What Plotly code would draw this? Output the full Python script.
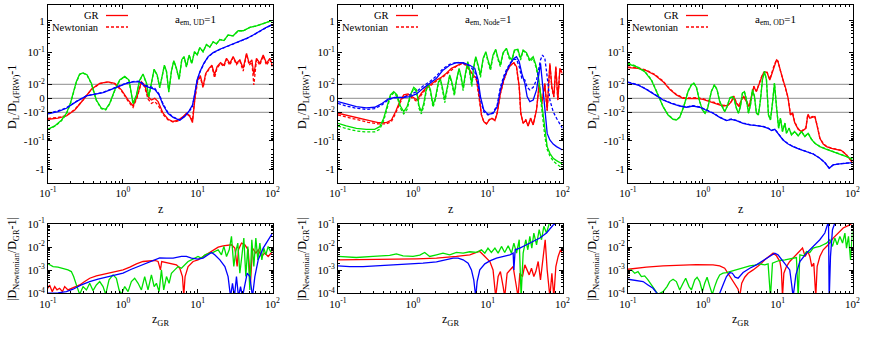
import numpy as np
import plotly.graph_objects as go

# ---------------- top row: D_L/D_L(FRW)-1 ----------------
# Panel 1: a_em,UD = 1
green_ud_z = [0.1, 0.123, 0.151, 0.176, 0.199, 0.221, 0.239, 0.265, 0.294, 0.332, 0.38, 0.443, 0.517, 0.59, 0.668, 0.78, 0.908, 1.06, 1.21, 1.37, 1.52, 1.68, 1.86, 2.07, 2.22, 2.41, 2.62, 2.87, 3.11, 3.38, 3.59, 3.83, 4.11, 4.46, 4.8, 5.2, 5.65, 6.13, 6.59, 7.08, 7.69, 8.34, 9.06, 9.84, 10.7, 11.8, 13.1, 14.5, 16.1, 17.8, 19.8, 22.4, 25.5, 29.8, 34.8, 40.6, 49.8, 61.1, 75.1, 100]
green_ud_gr = [-0.039, -0.03, -0.019, -0.011, -0.0036, 0.0048, 0.012, 0.021, 0.023, 0.020, 0.0108, -0.0012, -0.0071, -0.0079, -0.0036, 0.006, 0.0137, 0.018, 0.0137, -0.0036, 0.0024, 0.0137, 0.021, 0.011, 0.0012, 0.011, 0.030, 0.020, 0.0079, 0.020, 0.040, 0.026, 0.0048, 0.026, 0.056, 0.032, 0.0145, 0.06, 0.075, 0.036, 0.084, 0.046, 0.107, 0.085, 0.145, 0.107, 0.18, 0.15, 0.22, 0.19, 0.26, 0.24, 0.36, 0.34, 0.49, 0.49, 0.63, 0.70, 0.84, 1.05]
green_ud_nw = [-0.041, -0.031, -0.02, -0.0115, -0.004, 0.0045, 0.0115, 0.0205, 0.0225, 0.0195, 0.0102, -0.0016, -0.0075, -0.0083, -0.004, 0.0055, 0.0132, 0.0175, 0.013, -0.0042, 0.002, 0.013, 0.0205, 0.0105, 0.0008, 0.0105, 0.029, 0.0195, 0.0074, 0.0195, 0.039, 0.025, 0.0044, 0.025, 0.055, 0.031, 0.014, 0.059, 0.074, 0.035, 0.083, 0.045, 0.106, 0.084, 0.143, 0.106, 0.178, 0.148, 0.218, 0.188, 0.258, 0.238, 0.357, 0.337, 0.487, 0.487, 0.627, 0.697, 0.837, 1.04]

red_ud_z = [0.1, 0.136, 0.176, 0.228, 0.294, 0.38, 0.491, 0.634, 0.78, 0.957, 1.175, 1.37, 1.55, 1.77, 1.96, 2.17, 2.41, 2.67, 2.96, 3.45, 4.03, 4.70, 5.48, 6.39, 7.08, 7.85, 8.52, 8.97, 9.44, 10.1, 10.9, 11.8, 12.8, 14.2, 15.5, 16.8, 18.2, 20.2, 22.4, 24.3, 26.9, 29.8, 33.0, 36.6, 40.6, 45.0, 48.8, 53.0, 56.3, 61.1, 67.8, 75.1, 83.2, 92.2, 100]
red_ud_gr = [-0.0175, -0.016, -0.0135, -0.0083, -0.0012, 0.0064, 0.0107, 0.012, 0.0107, 0.006, -0.0012, -0.0055, 0.0012, 0.012, 0.0095, 0.0012, -0.0012, 0.0, -0.0024, -0.0108, -0.0175, -0.021, -0.019, -0.0142, -0.0108, -0.014, -0.023, -0.006, 0.006, 0.0155, 0.018, 0.0083, 0.022, 0.032, 0.04, 0.02, 0.036, 0.048, 0.04, 0.066, 0.046, 0.075, 0.046, 0.059, 0.032, 0.095, 0.046, 0.059, 0.02, 0.066, 0.046, 0.084, 0.046, 0.066, 0.04]
red_ud_nw = [-0.0165, -0.0152, -0.013, -0.008, -0.0012, 0.0062, 0.0105, 0.0118, 0.0104, 0.0055, -0.002, -0.0065, 0.0005, 0.0115, 0.008, -0.0005, -0.0036, -0.0024, -0.0048, -0.012, -0.0185, -0.022, -0.02, -0.015, -0.0115, -0.013, -0.02, -0.004, 0.005, 0.014, 0.016, 0.0075, 0.02, 0.03, 0.037, 0.016, 0.033, 0.045, 0.036, 0.062, 0.04, 0.07, 0.042, 0.055, 0.026, 0.09, 0.04, 0.05, 0.0095, 0.06, 0.04, 0.08, 0.04, 0.06, 0.035]

blue_ud_z = [0.1, 0.136, 0.176, 0.239, 0.326, 0.421, 0.544, 0.703, 0.908, 1.12, 1.37, 1.68, 1.96, 2.29, 2.67, 3.05, 3.45, 4.03, 4.70, 5.77, 6.73, 7.69, 8.52, 9.16, 9.84, 10.7, 12.1, 13.8, 16.1, 19.8, 24.3, 29.8, 36.6, 45.0, 55.2, 67.8, 83.2, 100]
blue_ud_gr = [-0.0114, -0.0095, -0.0071, -0.0024, 0.0017, 0.0031, 0.004, 0.0064, 0.0088, 0.0107, 0.012, 0.012, 0.0088, 0.0076, 0.0064, 0.0024, -0.0048, -0.011, -0.015, -0.019, -0.014, -0.009, -0.0048, 0.0036, 0.0137, 0.025, 0.046, 0.075, 0.1, 0.128, 0.155, 0.188, 0.222, 0.28, 0.36, 0.49, 0.63, 0.78]
blue_ud_nw = [-0.011, -0.009, -0.0068, -0.0022, 0.0018, 0.0032, 0.0042, 0.0066, 0.009, 0.011, 0.0122, 0.0125, 0.0095, 0.0085, 0.0072, 0.003, -0.004, -0.0105, -0.0145, -0.0185, -0.0135, -0.0095, -0.006, 0.003, 0.013, 0.024, 0.045, 0.073, 0.098, 0.126, 0.153, 0.186, 0.22, 0.277, 0.355, 0.48, 0.62, 0.77]

# Panel 2: a_em,Node = 1
green_node_z = [0.1, 0.129, 0.176, 0.239, 0.309, 0.361, 0.408, 0.452, 0.501, 0.556, 0.615, 0.682, 0.756, 0.838, 0.927, 1.028, 1.12, 1.21, 1.30, 1.40, 1.52, 1.61, 1.72, 1.86, 2.02, 2.20, 2.34, 2.48, 2.67, 2.87, 3.11, 3.31, 3.59, 3.83, 4.15, 4.42, 4.70, 5.05, 5.42, 5.77, 6.13, 6.52, 6.93, 7.45, 8.01, 8.69, 9.44, 10.1, 10.9, 11.8, 12.8, 13.8, 14.8, 16.1, 17.8, 19.4, 21.0, 22.8, 25.3, 27.5, 29.8, 33.0, 36.6, 40.6, 44.0, 47.3, 50.8, 54.0, 58.1, 62.4, 67.8, 75.1, 83.2, 100]
green_node_gr = [-0.0243, -0.0302, -0.0364, -0.0395, -0.0395, -0.0319, -0.0162, -0.006, 0.0024, 0.0048, 0.0024, -0.0055, -0.0095, -0.006, 0.0024, 0.0079, 0.006, -0.0055, -0.0095, -0.0036, 0.0071, 0.0102, 0.006, -0.0048, 0.0012, 0.0121, 0.0144, 0.0079, -0.0012, 0.0071, 0.0197, 0.0121, 0.0036, 0.0137, 0.032, 0.0175, 0.0071, 0.0222, 0.052, 0.025, 0.0102, 0.0361, 0.0748, 0.0408, 0.0197, 0.066, 0.107, 0.0586, 0.032, 0.084, 0.127, 0.066, 0.0408, 0.1, 0.137, 0.0748, 0.0586, 0.121, 0.127, 0.066, 0.121, 0.1, 0.0586, 0.0748, 0.0408, 0.0197, 0.0036, -0.0108, -0.0546, -0.16, -0.275, -0.411, -0.497, -0.65]
green_node_nw = [-0.0302, -0.0374, -0.0452, -0.049, -0.049, -0.0395, -0.0196, -0.0071, 0.0012, 0.004, 0.0012, -0.0071, -0.0114, -0.0079, 0.0012, 0.0071, 0.0048, -0.0071, -0.0114, -0.0055, 0.006, 0.0095, 0.0048, -0.0064, -0.0002, 0.0113, 0.0137, 0.0064, -0.0031, 0.006, 0.0183, 0.0107, 0.0017, 0.0124, 0.0298, 0.0151, 0.0055, 0.0202, 0.0483, 0.0222, 0.0083, 0.0328, 0.0713, 0.0361, 0.0166, 0.0616, 0.1, 0.052, 0.0271, 0.0785, 0.121, 0.0586, 0.0361, 0.0953, 0.131, 0.066, 0.052, 0.115, 0.121, 0.0586, 0.115, 0.0908, 0.052, 0.066, 0.0361, 0.0166, 0.0012, -0.0142, -0.0714, -0.199, -0.34, -0.51, -0.65, -0.92]

red_node_z = [0.1, 0.136, 0.185, 0.252, 0.343, 0.443, 0.517, 0.59, 0.668, 0.756, 0.863, 1.007, 1.14, 1.30, 1.52, 1.77, 2.07, 2.41, 2.81, 3.28, 3.75, 4.24, 4.70, 5.20, 5.77, 6.39, 7.08, 7.69, 8.26, 8.87, 9.64, 10.5, 11.4, 12.5, 13.4, 14.8, 16.4, 18.2, 20.2, 22.4, 24.3, 26.4, 27.7, 29.8, 32.3, 34.8, 37.4, 40.6, 45.0, 48.8, 52.9, 58.1, 62.4, 67.8, 72.1, 76.6, 81.5, 86.7, 92.2, 100]
red_node_gr = [-0.0108, -0.0131, -0.0162, -0.0196, -0.0231, -0.0231, -0.0186, -0.0095, -0.0024, 0.0024, 0.0031, 0.0007, -0.0012, 0.0036, 0.0079, 0.0102, 0.0137, 0.0166, 0.0222, 0.032, 0.0379, 0.0439, 0.0483, 0.0408, 0.0284, 0.0197, 0.0155, 0.0024, -0.0124, -0.0212, -0.0256, -0.0186, -0.0162, -0.0196, -0.0108, 0.0036, 0.0137, 0.0271, 0.0408, 0.0483, 0.0361, 0.0083, -0.0108, -0.0243, -0.0186, -0.0302, -0.0162, -0.0278, -0.0083, 0.0107, -0.0036, 0.0107, -0.0083, 0.046, 0.0083, 0.0012, 0.0361, -0.0012, 0.032, 0.0222]
red_node_nw = [-0.0124, -0.015, -0.0186, -0.0224, -0.0256, -0.0256, -0.0212, -0.0108, -0.0036, 0.0012, 0.0024, 0.0, -0.0024, 0.0024, 0.0071, 0.0095, 0.0128, 0.0155, 0.0207, 0.0297, 0.0361, 0.0418, 0.046, 0.0379, 0.025, 0.0175, 0.0137, 0.0012, -0.0124, -0.021, -0.025, -0.018, -0.016, -0.019, -0.0105, 0.0033, 0.013, 0.026, 0.039, 0.047, 0.034, 0.0075, -0.011, -0.024, -0.018, -0.03, -0.016, -0.027, -0.008, 0.0095, -0.004, 0.0095, -0.009, 0.042, 0.007, 0.0008, 0.033, -0.0015, 0.03, 0.02]

blue_node_z = [0.1, 0.129, 0.176, 0.239, 0.309, 0.38, 0.466, 0.573, 0.74, 0.908, 1.12, 1.37, 1.68, 2.07, 2.53, 3.11, 3.83, 4.70, 5.77, 6.73, 7.45, 8.01, 8.87, 10.1, 11.8, 13.4, 14.8, 16.4, 18.2, 20.2, 22.4, 24.3, 26.4, 28.6, 31.4, 33.7, 36.6, 40.6, 45.0, 48.8, 50.8, 54.0, 58.1, 62.4, 67.8, 75.1, 83.2, 100]
blue_node_gr = [-0.0024, -0.004, -0.006, -0.0069, -0.0064, -0.004, -0.0005, 0.0007, 0.0005, 0.0012, 0.0031, 0.0071, 0.0107, 0.0155, 0.028, 0.04, 0.048, 0.048, 0.04, 0.032, 0.0137, 0.0012, -0.0083, -0.0118, -0.011, -0.006, 0.006, 0.0155, 0.028, 0.046, 0.066, 0.075, 0.052, 0.022, 0.0107, 0.0012, -0.0024, -0.0012, 0.006, 0.022, 0.046, 0.0107, -0.0083, -0.055, -0.094, -0.13, -0.16, -0.21]
blue_node_nw = [-0.0036, -0.0055, -0.0071, -0.0079, -0.0074, -0.005, -0.0012, 0.0005, 0.0007, 0.0024, 0.0048, 0.0088, 0.0121, 0.0183, 0.0313, 0.0428, 0.0495, 0.046, 0.0379, 0.025, 0.0095, -0.0012, -0.0095, -0.0124, -0.0103, -0.0048, 0.0079, 0.0183, 0.032, 0.048, 0.0616, 0.0616, 0.036, 0.0155, 0.0137, 0.0079, 0.006, 0.0079, 0.0137, 0.036, 0.0586, 0.084, 0.066, 0.0175, -0.0012, -0.0095, -0.0162, -0.0364]

# Panel 3: a_em,OD = 1
green_od_z = [0.1, 0.129, 0.167, 0.205, 0.252, 0.294, 0.343, 0.4, 0.443, 0.491, 0.556, 0.634, 0.703, 0.756, 0.82, 0.908, 0.986, 1.07, 1.16, 1.30, 1.43, 1.55, 1.68, 1.83, 1.96, 2.11, 2.29, 2.48, 2.64, 2.81, 2.99, 3.18, 3.38, 3.59, 3.83, 4.07, 4.33, 4.60, 4.90, 5.20, 5.53, 5.89, 6.26, 6.66, 7.08, 7.53, 8.01, 8.52, 9.06, 9.64, 10.3, 10.9, 11.6, 12.5, 13.1, 14.2, 15.3, 16.9, 18.8, 20.8, 23.1, 25.5, 28.3, 31.4, 36.6, 45.0, 55.2, 67.8, 83.2, 100]
green_od_gr = [0.0439, 0.0361, 0.025, 0.0137, 0.0024, -0.006, -0.0124, -0.0176, -0.0186, -0.015, -0.006, 0.0048, 0.0095, 0.0107, 0.0079, -0.0024, -0.0083, -0.0108, -0.0071, 0.0048, 0.0095, 0.006, -0.0024, -0.0071, -0.0095, -0.006, 0.0, 0.0012, -0.0012, -0.0071, -0.0108, -0.006, 0.0036, 0.0048, -0.0012, -0.0108, -0.0048, 0.006, 0.0012, -0.0108, -0.0124, -0.0012, 0.0137, 0.025, 0.0137, -0.0124, -0.0186, -0.0036, 0.0107, -0.006, -0.0364, -0.0162, -0.0476, -0.0243, -0.0546, -0.0364, -0.0623, -0.0476, -0.0676, -0.0476, -0.0714, -0.0546, -0.0886, -0.122, -0.16, -0.199, -0.24, -0.29, -0.36, -0.445]
green_od_nw = [0.046, 0.0375, 0.026, 0.0142, 0.0026, -0.0058, -0.0122, -0.0172, -0.0183, -0.0147, -0.0058, 0.005, 0.0098, 0.011, 0.0082, -0.0022, -0.0081, -0.0106, -0.0069, 0.005, 0.0098, 0.0062, -0.0022, -0.0069, -0.0093, -0.0058, 0.0002, 0.0014, -0.001, -0.0069, -0.0106, -0.0058, 0.0038, 0.005, -0.001, -0.0106, -0.0046, 0.0062, 0.0014, -0.0106, -0.0122, -0.001, 0.0142, 0.026, 0.0142, -0.0122, -0.0183, -0.0034, 0.011, -0.0058, -0.0357, -0.0158, -0.0468, -0.0238, -0.0535, -0.0357, -0.061, -0.0468, -0.066, -0.0468, -0.07, -0.0535, -0.087, -0.12, -0.157, -0.196, -0.236, -0.285, -0.355, -0.44]

red_od_z = [0.1, 0.136, 0.176, 0.228, 0.294, 0.361, 0.443, 0.544, 0.668, 0.82, 1.007, 1.24, 1.52, 1.86, 2.17, 2.41, 2.59, 2.81, 3.05, 3.28, 3.52, 3.83, 4.15, 4.46, 4.80, 5.20, 5.77, 6.26, 6.73, 7.23, 7.85, 8.34, 8.87, 9.64, 10.1, 10.9, 11.8, 12.8, 13.8, 14.8, 15.8, 16.9, 18.8, 20.8, 22.4, 23.8, 25.3, 26.9, 28.9, 31.4, 33.7, 36.6, 40.6, 45.0, 52.4, 61.1, 71.3, 83.2, 92.2, 100]
red_od_gr = [0.0336, 0.032, 0.027, 0.0197, 0.0121, 0.0064, 0.0024, 0.0, -0.0002, 0.0, -0.0007, -0.0024, -0.004, -0.0055, -0.005, -0.0024, 0.0012, -0.0036, -0.006, -0.0012, 0.0012, -0.0024, -0.006, 0.0012, 0.0083, 0.0048, 0.0121, 0.0197, 0.025, 0.0233, 0.0137, 0.0222, 0.0361, 0.0586, 0.052, 0.025, 0.0137, 0.0071, 0.0, -0.0124, -0.0108, -0.0231, -0.0395, -0.0476, -0.0417, -0.0364, -0.0124, -0.0162, -0.015, -0.0142, -0.0302, -0.0816, -0.129, -0.16, -0.183, -0.199, -0.221, -0.314, -0.471, -0.583]
red_od_nw = [0.035, 0.033, 0.028, 0.0205, 0.0126, 0.0068, 0.0028, 0.0004, 0.0002, 0.0004, -0.0003, -0.002, -0.0036, -0.005, -0.0046, -0.002, 0.0016, -0.003, -0.0055, -0.0008, 0.0016, -0.002, -0.0055, 0.0016, 0.0087, 0.0052, 0.0125, 0.0205, 0.026, 0.024, 0.0142, 0.023, 0.037, 0.06, 0.054, 0.026, 0.0142, 0.0075, 0.0004, -0.0118, -0.0102, -0.022, -0.038, -0.046, -0.04, -0.035, -0.0115, -0.0155, -0.0143, -0.0135, -0.029, -0.079, -0.126, -0.157, -0.18, -0.196, -0.218, -0.31, -0.465, -0.575]

blue_od_z = [0.1, 0.136, 0.176, 0.228, 0.294, 0.38, 0.491, 0.602, 0.74, 0.908, 1.12, 1.37, 1.68, 2.07, 2.41, 2.81, 3.45, 4.24, 5.20, 6.39, 7.45, 8.26, 9.16, 10.1, 11.8, 13.8, 16.1, 19.8, 24.3, 29.8, 36.6, 42.7, 48.8, 55.2, 67.8, 83.2, 100]
blue_od_gr = [0.0116, 0.0095, 0.0064, 0.0024, -0.0012, -0.0036, -0.0055, -0.0064, -0.0055, -0.0064, -0.0083, -0.0108, -0.015, -0.0196, -0.0176, -0.0196, -0.0243, -0.0278, -0.0293, -0.0319, -0.0364, -0.044, -0.0395, -0.0546, -0.0935, -0.129, -0.16, -0.199, -0.24, -0.29, -0.412, -0.583, -0.92, -0.705, -0.65, -0.62, -0.583]
blue_od_nw = [0.0118, 0.0097, 0.0066, 0.0026, -0.001, -0.0034, -0.0053, -0.0062, -0.0053, -0.0062, -0.0081, -0.0105, -0.0147, -0.0192, -0.0172, -0.0192, -0.0238, -0.0273, -0.0288, -0.0313, -0.0357, -0.0432, -0.0388, -0.0536, -0.092, -0.127, -0.158, -0.196, -0.237, -0.287, -0.405, -0.575, -0.9, -0.695, -0.64, -0.61, -0.575]

# ---------------- bottom row: |D_Newtonian/D_GR - 1| ----------------
b_green_ud_z = [0.1, 0.117, 0.136, 0.159, 0.185, 0.205, 0.220, 0.244, 0.265, 0.294, 0.326, 0.361, 0.4, 0.443, 0.491, 0.544, 0.59, 0.654, 0.74, 0.82, 0.891, 0.957, 1.06, 1.175, 1.30, 1.44, 1.60, 1.77, 1.96, 2.17, 2.41, 2.62, 2.81, 3.05, 3.28, 3.52, 3.83, 4.15, 4.46, 4.94, 5.48, 6.07, 6.73, 7.45, 8.26, 9.16, 10.1, 11.2, 12.5, 14.5, 16.1, 18.8, 20.8, 22.4, 24.3, 26.4, 28.3, 30.4, 32.3, 34.4, 36.6, 38.9, 41.4, 44.0, 46.8, 49.8, 52.9, 56.3, 59.9, 63.7, 67.8, 72.1, 76.6, 81.5, 87.5, 94.1, 100]
b_green_ud = [0.00188, 0.00144, 0.00135, 0.00122, 0.00103, 0.000874, 0.000531, 0.000195, 0.00009, 0.000195, 0.00014, 0.000272, 0.00013, 0.00023, 0.000322, 0.000195, 0.00009, 0.00038, 0.000627, 0.000449, 0.00014, 0.00009, 0.000195, 0.000118, 0.000322, 0.000449, 0.000272, 0.00014, 0.000531, 0.00014, 0.000627, 0.000195, 0.000272, 0.000118, 0.00103, 0.00014, 0.000531, 0.000272, 0.000741, 0.00103, 0.00144, 0.00122, 0.0017, 0.00238, 0.00281, 0.00332, 0.00393, 0.00332, 0.00464, 0.00548, 0.00587, 0.00766, 0.00464, 0.0107, 0.00393, 0.00766, 0.0291, 0.00144, 0.00648, 0.0149, 0.000741, 0.00393, 0.0246, 0.000531, 0.0107, 0.00014, 0.0208, 0.00144, 0.0246, 0.00281, 0.0149, 0.00281, 0.00905, 0.00464, 0.0107, 0.00648, 0.00766]

b_red_ud_z = [0.1, 0.105, 0.114, 0.123, 0.132, 0.143, 0.156, 0.167, 0.185, 0.205, 0.228, 0.265, 0.309, 0.361, 0.443, 0.544, 0.668, 0.82, 1.007, 1.24, 1.52, 1.86, 2.29, 2.67, 2.96, 3.18, 3.31, 3.83, 4.46, 5.20, 5.77, 6.26, 6.52, 6.79, 7.45, 8.69, 10.1, 11.8, 13.8, 16.1, 18.8, 21.9, 25.5, 28.3, 31.4, 33.7, 35.1, 38.5, 42.7, 47.3, 50.8, 54.0, 59.9, 64.4, 71.3, 79.1, 87.5, 100]
b_red_ud = [0.000165, 0.00023, 0.000118, 0.000195, 0.00014, 0.000165, 0.000118, 0.000195, 0.00014, 0.000165, 0.000195, 0.00023, 0.000322, 0.000449, 0.000567, 0.00067, 0.000741, 0.000874, 0.00103, 0.00135, 0.00188, 0.00238, 0.00254, 0.00263, 0.00238, 0.00103, 0.00238, 0.00215, 0.00201, 0.0017, 0.00122, 0.000531, 0.00008, 0.000531, 0.00144, 0.00238, 0.00281, 0.00393, 0.00548, 0.00766, 0.01, 0.0114, 0.0126, 0.0126, 0.00905, 0.00144, 0.00766, 0.0149, 0.0126, 0.00766, 0.000272, 0.00905, 0.00548, 0.00766, 0.00393, 0.00548, 0.00393, 0.00648]

b_blue_ud_z = [0.1, 0.136, 0.176, 0.216, 0.279, 0.361, 0.466, 0.602, 0.78, 1.007, 1.30, 1.68, 2.17, 2.67, 3.11, 3.83, 4.70, 6.07, 7.08, 8.26, 10.1, 11.8, 13.8, 15.3, 16.9, 19.8, 23.1, 25.5, 27.5, 29.2, 31.0, 33.0, 35.1, 37.4, 39.7, 42.7, 45.9, 49.8, 54.0, 58.1, 64.4, 75.1, 87.5, 100]
b_blue_ud = [0.000102, 0.000105, 0.000118, 0.00015, 0.00023, 0.000322, 0.000406, 0.000496, 0.000586, 0.000741, 0.0011, 0.00154, 0.00215, 0.00281, 0.00343, 0.00332, 0.00332, 0.00393, 0.00393, 0.00332, 0.00301, 0.00332, 0.00464, 0.00587, 0.00464, 0.00281, 0.00144, 0.000531, 0.00007, 0.000272, 0.00007, 0.000531, 0.00007, 0.000195, 0.00007, 0.000272, 0.000741, 0.000531, 0.00007, 0.000531, 0.00281, 0.00905, 0.0208, 0.0406]

b_green_node_z = [0.1, 0.176, 0.294, 0.491, 0.602, 0.74, 1.007, 1.24, 1.44, 1.68, 2.07, 2.53, 3.11, 3.83, 4.70, 5.77, 7.08, 8.26, 9.16, 10.1, 11.2, 12.5, 13.8, 15.3, 16.9, 18.8, 20.8, 22.4, 24.3, 26.4, 28.0, 29.8, 32.3, 34.4, 36.6, 38.9, 41.4, 45.0, 48.8, 52.4, 56.3, 61.1, 67.8, 100]
b_green_node = [0.00393, 0.00355, 0.00393, 0.00434, 0.00512, 0.0042, 0.00393, 0.00449, 0.00587, 0.00393, 0.00464, 0.00548, 0.00464, 0.00587, 0.00548, 0.00627, 0.00587, 0.00766, 0.00548, 0.00905, 0.00587, 0.00905, 0.00548, 0.0107, 0.00587, 0.0114, 0.00548, 0.0149, 0.00548, 0.0208, 0.00007, 0.00548, 0.0208, 0.00766, 0.0291, 0.00905, 0.0406, 0.0126, 0.0568, 0.0208, 0.0792, 0.0406, 0.131, 0.154]

b_red_node_z = [0.1, 0.176, 0.326, 0.602, 1.12, 2.07, 3.83, 5.77, 7.08, 7.85, 8.69, 9.64, 10.7, 11.8, 12.8, 13.8, 14.8, 16.1, 16.9, 18.2, 19.8, 21.9, 23.8, 25.5, 26.9, 29.2, 31.4, 33.7, 35.9, 38.5, 41.4, 44.0, 47.3, 50.8, 55.2, 58.7, 62.4, 67.8, 72.1, 76.6, 81.5, 87.5, 94.1, 100]
b_red_node = [0.00281, 0.00281, 0.00281, 0.00301, 0.0031, 0.00332, 0.00393, 0.00464, 0.00587, 0.00648, 0.00464, 0.00332, 0.00238, 0.00103, 0.00007, 0.000531, 0.000874, 0.000195, 0.00007, 0.000741, 0.00103, 0.00144, 0.000272, 0.00007, 0.000741, 0.000531, 0.0017, 0.00103, 0.000627, 0.00122, 0.000531, 0.000874, 0.00238, 0.00038, 0.00393, 0.0208, 0.00103, 0.00007, 0.000741, 0.00007, 0.00144, 0.00393, 0.00766, 0.00548]

b_blue_node_z = [0.1, 0.143, 0.216, 0.326, 0.491, 0.82, 1.37, 2.07, 2.81, 3.45, 4.03, 4.70, 5.48, 6.07, 6.52, 6.93, 7.23, 7.85, 9.16, 10.7, 13.1, 16.1, 19.8, 21.9, 22.4, 23.3, 26.9, 33.0, 40.6, 49.8, 61.1, 75.1, 87.5, 100]
b_blue_node = [0.00154, 0.00144, 0.00144, 0.00154, 0.0017, 0.00188, 0.00201, 0.0023, 0.00281, 0.00332, 0.00332, 0.00281, 0.00201, 0.00103, 0.00038, 0.00007, 0.000322, 0.00103, 0.00188, 0.00254, 0.00332, 0.00393, 0.00464, 0.00548, 0.00103, 0.00766, 0.00905, 0.0126, 0.0176, 0.0246, 0.0406, 0.09, 0.12, 0.15]

b_red_od_z = [0.1, 0.129, 0.176, 0.294, 0.491, 0.82, 1.37, 1.68, 1.96, 2.17, 2.41, 2.67, 2.96, 3.11, 3.31, 3.63, 4.03, 4.70, 5.77, 6.73, 7.85, 8.69, 9.64, 10.7, 11.2, 11.6, 12.1, 13.1, 14.5, 16.1, 17.8, 19.8, 21.5, 23.3, 25.3, 26.9, 28.6, 30.4, 32.3, 33.7, 36.6, 40.6, 47.3, 55.2, 64.4, 75.1, 87.5, 100]
b_red_od = [0.0011, 0.00122, 0.00135, 0.00154, 0.0017, 0.00176, 0.0017, 0.00154, 0.00122, 0.000741, 0.000449, 0.000272, 0.00015, 0.00007, 0.000272, 0.000496, 0.000741, 0.00103, 0.0017, 0.00281, 0.0042, 0.00548, 0.0042, 0.00238, 0.00103, 0.00007, 0.000741, 0.00144, 0.00238, 0.00332, 0.00464, 0.00648, 0.00905, 0.00393, 0.00648, 0.00393, 0.00144, 0.00201, 0.00007, 0.00144, 0.00393, 0.00766, 0.0126, 0.0246, 0.0406, 0.067, 0.0847, 0.11]

b_blue_od_z = [0.1, 0.117, 0.136, 0.159, 0.185, 0.216, 0.244, 0.326, 0.491, 0.82, 1.37, 1.68, 1.90, 2.07, 2.29, 2.48, 2.70, 2.96, 3.45, 4.24, 5.20, 6.39, 7.85, 9.16, 10.1, 11.8, 13.1, 14.5, 15.3, 16.1, 17.5, 19.8, 24.3, 29.8, 36.6, 42.7, 45.9, 47.8, 48.8, 50.8, 54.0, 58.1, 67.8, 83.2, 100]
b_blue_od = [0.000406, 0.00038, 0.000355, 0.000322, 0.00023, 0.000165, 0.0001, 0.00005, 0.00004, 0.00004, 0.00005, 0.0001, 0.000272, 0.000531, 0.00079, 0.000741, 0.000496, 0.000449, 0.00079, 0.00122, 0.0017, 0.00263, 0.00393, 0.00548, 0.00464, 0.00238, 0.0017, 0.00103, 0.000272, 0.00007, 0.000627, 0.00238, 0.00548, 0.0107, 0.0208, 0.0406, 0.0935, 0.131, 0.00005, 0.00393, 0.0568, 0.11, 0.154, 0.18, 0.2]

b_green_od_z = [0.1, 0.111, 0.123, 0.136, 0.151, 0.167, 0.185, 0.205, 0.228, 0.252, 0.294, 0.332, 0.361, 0.4, 0.443, 0.491, 0.544, 0.59, 0.654, 0.703, 0.78, 0.838, 0.908, 0.986, 1.06, 1.14, 1.24, 1.34, 1.44, 1.55, 1.68, 1.86, 2.07, 2.29, 2.53, 2.81, 3.11, 3.63, 4.24, 4.94, 5.77, 6.73, 7.45, 8.01, 8.52, 9.64, 10.7, 12.5, 14.5, 16.1, 17.8, 18.8, 19.8, 22.4, 24.3, 26.9, 29.8, 33.0, 36.6, 40.6, 45.0, 49.8, 54.0, 58.1, 62.4, 67.8, 73.6, 79.1, 83.2, 88.4, 94.1, 100]
b_green_od = [0.00093, 0.00103, 0.000741, 0.000874, 0.000531, 0.000567, 0.00038, 0.00023, 0.00014, 0.00009, 0.000118, 0.000195, 0.000322, 0.000406, 0.000322, 0.00014, 0.000272, 0.000449, 0.000195, 0.00014, 0.00038, 0.000496, 0.000322, 0.000118, 0.000272, 0.000496, 0.000195, 0.00009, 0.000195, 0.00038, 0.000627, 0.000741, 0.00079, 0.000874, 0.00097, 0.00103, 0.00114, 0.00135, 0.00154, 0.00165, 0.00188, 0.0017, 0.00188, 0.00007, 0.00201, 0.00238, 0.00263, 0.00281, 0.00301, 0.00332, 0.00355, 0.00007, 0.00464, 0.0042, 0.00648, 0.00587, 0.00905, 0.01, 0.0107, 0.0126, 0.0149, 0.0208, 0.0107, 0.0246, 0.0126, 0.0291, 0.0149, 0.0406, 0.00905, 0.0291, 0.00281, 0.048]

# tick labels / texts
top_tick_values = [1, 0.1, 0.01, 0, -0.01, -0.1, -1]
top_tick_text = ["1", "10<sup>-1</sup>", "10<sup>-2</sup>", "0", "-10<sup>-2</sup>", "-10<sup>-1</sup>", "-1"]
x_tick_values = [0.1, 1, 10, 100]
x_tick_text = ["10<sup>-1</sup>", "10<sup>0</sup>", "10<sup>1</sup>", "10<sup>2</sup>"]
bot_tick_values = [1e-4, 1e-3, 1e-2, 1e-1]
bot_tick_text = ["10<sup>-4</sup>", "10<sup>-3</sup>", "10<sup>-2</sup>", "10<sup>-1</sup>"]
panel_labels = ["a<sub>em, UD</sub>=1", "a<sub>em, Node</sub>=1", "a<sub>em, OD</sub>=1"]
guide_values = [0.01, 0.0, -0.01]

# ---------------- symmetric-log scale of the top row ----------------
C0, KP, KN = 14.0, 31.67, 28.5


def sym(v):
    v = np.asarray(v, dtype=float)
    a = np.abs(v)
    big = a >= 0.01
    la = np.log10(np.where(big, a, 0.01)) + 2.0
    out = v / 0.01 * C0
    out = np.where(big & (v > 0), C0 + la * KP, out)
    out = np.where(big & (v < 0), -(C0 + la * KN), out)
    return out


RED, GREEN, BLUE = "#ff0000", "#00e000", "#0000ff"
FONT = "Liberation Serif"
W, H = 872, 339
LW = 1.3
DASH = "3px,2px"

fig = go.Figure()

top_sets = [
    [(red_ud_z, red_ud_gr, red_ud_nw, RED), (green_ud_z, green_ud_gr, green_ud_nw, GREEN), (blue_ud_z, blue_ud_gr, blue_ud_nw, BLUE)],
    [(red_node_z, red_node_gr, red_node_nw, RED), (green_node_z, green_node_gr, green_node_nw, GREEN), (blue_node_z, blue_node_gr, blue_node_nw, BLUE)],
    [(red_od_z, red_od_gr, red_od_nw, RED), (green_od_z, green_od_gr, green_od_nw, GREEN), (blue_od_z, blue_od_gr, blue_od_nw, BLUE)],
]
bot_sets = [
    [(b_red_ud_z, b_red_ud, RED), (b_green_ud_z, b_green_ud, GREEN), (b_blue_ud_z, b_blue_ud, BLUE)],
    [(b_red_node_z, b_red_node, RED), (b_green_node_z, b_green_node, GREEN), (b_blue_node_z, b_blue_node, BLUE)],
    [(b_red_od_z, b_red_od, RED), (b_green_od_z, b_green_od, GREEN), (b_blue_od_z, b_blue_od, BLUE)],
]

for p, sets in enumerate(top_sets):
    xa = "x" if p == 0 else f"x{p + 1}"
    ya = "y" if p == 0 else f"y{p + 1}"
    for z, gr, nw, col in sets:
        assert len(z) == len(gr) == len(nw), (p, col, len(z), len(gr), len(nw))
        fig.add_trace(go.Scatter(x=z, y=sym(nw), mode="lines", xaxis=xa, yaxis=ya,
                                 line=dict(color=col, width=LW, dash=DASH),
                                 showlegend=False, hoverinfo="skip"))
        fig.add_trace(go.Scatter(x=z, y=sym(gr), mode="lines", xaxis=xa, yaxis=ya,
                                 line=dict(color=col, width=LW),
                                 showlegend=False, hoverinfo="skip"))

for p, sets in enumerate(bot_sets):
    xa = f"x{p + 4}"
    ya = f"y{p + 4}"
    for z, v, col in sets:
        assert len(z) == len(v), (p, col, len(z), len(v))
        fig.add_trace(go.Scatter(x=z, y=v, mode="lines", xaxis=xa, yaxis=ya,
                                 line=dict(color=col, width=LW),
                                 showlegend=False, hoverinfo="skip"))

# ---------------- axes ----------------
lefts = [48.0, 338.0, 628.0]
pw = 224.5
top_y0, top_y1 = 5.0, 182.5
bot_y0, bot_y1 = 224.0, 293.3

x_minor = [m * d for d in (0.1, 1, 10) for m in range(2, 10)]
top_minor = []
for s in (1, -1):
    for d in (0.01, 0.1):
        for m in range(2, 10):
            top_minor.append(float(sym(s * m * d)))
bot_minor = [m * d for d in (1e-4, 1e-3, 1e-2) for m in range(2, 10)]

tickfont = dict(family=FONT, size=11, color="black")
common = dict(ticks="inside", ticklen=4, tickwidth=1, tickcolor="black", showline=True,
              linecolor="black", linewidth=1, mirror="allticks", showgrid=False,
              zeroline=False, tickfont=tickfont, automargin=False)

lay = {}
for p in range(3):
    dom = [lefts[p] / W, (lefts[p] + pw) / W]
    xk = "xaxis" if p == 0 else f"xaxis{p + 1}"
    yk = "yaxis" if p == 0 else f"yaxis{p + 1}"
    ya_ref = "y" if p == 0 else f"y{p + 1}"
    xa_ref = "x" if p == 0 else f"x{p + 1}"
    lay[xk] = dict(type="log", range=[-1, 2], domain=dom, anchor=ya_ref,
                   tickmode="array", tickvals=x_tick_values, ticktext=x_tick_text,
                   minor=dict(ticks="inside", ticklen=2, tickcolor="black",
                              tickmode="array", tickvals=x_minor, showgrid=False),
                   **common)
    lay[yk] = dict(type="linear", range=[-(top_y1 - 98.3), 98.3 - top_y0],
                   domain=[1 - top_y1 / H, 1 - top_y0 / H], anchor=xa_ref,
                   tickmode="array", tickvals=list(sym(top_tick_values)), ticktext=top_tick_text,
                   minor=dict(ticks="inside", ticklen=2, tickcolor="black",
                              tickmode="array", tickvals=top_minor, showgrid=False),
                   **common)
    lay[f"xaxis{p + 4}"] = dict(type="log", range=[-1, 2], domain=dom, anchor=f"y{p + 4}",
                                tickmode="array", tickvals=x_tick_values, ticktext=x_tick_text,
                                minor=dict(ticks="inside", ticklen=2, tickcolor="black",
                                           tickmode="array", tickvals=x_minor, showgrid=False),
                                **common)
    lay[f"yaxis{p + 4}"] = dict(type="log", range=[-4, -1],
                                domain=[1 - bot_y1 / H, 1 - bot_y0 / H], anchor=f"x{p + 4}",
                                tickmode="array", tickvals=bot_tick_values, ticktext=bot_tick_text,
                                minor=dict(ticks="inside", ticklen=2, tickcolor="black",
                                           tickmode="array", tickvals=bot_minor, showgrid=False),
                                **common)

fig.update_layout(width=W, height=H, margin=dict(l=0, r=0, t=0, b=0, autoexpand=False),
                  paper_bgcolor="white", plot_bgcolor="white", **lay)

# ---------------- guide lines, labels, legends ----------------
shapes = []
annos = []
txtfont = dict(family=FONT, size=11, color="black")
legfont = dict(family=FONT, size=10.5, color="black")
for p in range(3):
    xa_ref = "x" if p == 0 else f"x{p + 1}"
    ya_ref = "y" if p == 0 else f"y{p + 1}"
    for gv in guide_values:
        yy = float(sym(gv))
        shapes.append(dict(type="line", xref=f"{xa_ref} domain", yref=ya_ref, x0=0, x1=1,
                           y0=yy, y1=yy, line=dict(color="#8c8c8c", width=1), layer="below"))
    L = lefts[p]
    cx = (L + pw / 2) / W
    annos.append(dict(text="GR", x=(L + 53) / W, y=1 - 15.5 / H, xref="paper", yref="paper",
                      xanchor="right", yanchor="middle", showarrow=False, font=legfont))
    annos.append(dict(text="Newtonian", x=(L + 53) / W, y=1 - 27 / H, xref="paper", yref="paper",
                      xanchor="right", yanchor="middle", showarrow=False, font=legfont))
    shapes.append(dict(type="line", xref="paper", yref="paper", x0=(L + 58) / W, x1=(L + 80) / W,
                       y0=1 - 15.5 / H, y1=1 - 15.5 / H, line=dict(color=RED, width=LW)))
    shapes.append(dict(type="line", xref="paper", yref="paper", x0=(L + 58) / W, x1=(L + 80) / W,
                       y0=1 - 27 / H, y1=1 - 27 / H, line=dict(color=RED, width=LW, dash=DASH)))
    annos.append(dict(text=panel_labels[p], x=(L + 125) / W, y=1 - 20 / H, xref="paper", yref="paper",
                      xanchor="left", yanchor="middle", showarrow=False, font=txtfont))
    annos.append(dict(text="D<sub>L</sub>/D<sub>L(FRW)</sub>-1", x=(L - 35) / W, y=1 - 97 / H,
                      xref="paper", yref="paper", textangle=-90, xanchor="center", yanchor="middle",
                      showarrow=False, font=dict(family=FONT, size=12, color="black")))
    annos.append(dict(text="|D<sub>Newtonian</sub>/D<sub>GR</sub>-1|", x=(L - 35) / W, y=1 - 259 / H,
                      xref="paper", yref="paper", textangle=-90, xanchor="center", yanchor="middle",
                      showarrow=False, font=dict(family=FONT, size=12, color="black")))
    annos.append(dict(text="z", x=cx, y=1 - 209 / H, xref="paper", yref="paper",
                      xanchor="center", yanchor="middle", showarrow=False,
                      font=dict(family=FONT, size=12, color="black")))
    annos.append(dict(text="z<sub>GR</sub>", x=cx, y=1 - 320 / H, xref="paper", yref="paper",
                      xanchor="center", yanchor="middle", showarrow=False,
                      font=dict(family=FONT, size=12, color="black")))

fig.update_layout(shapes=shapes, annotations=annos)
fig.write_html("out.html", config={"displayModeBar": False},
               post_script="document.body.style.margin='0px';document.body.style.overflow='hidden';")
